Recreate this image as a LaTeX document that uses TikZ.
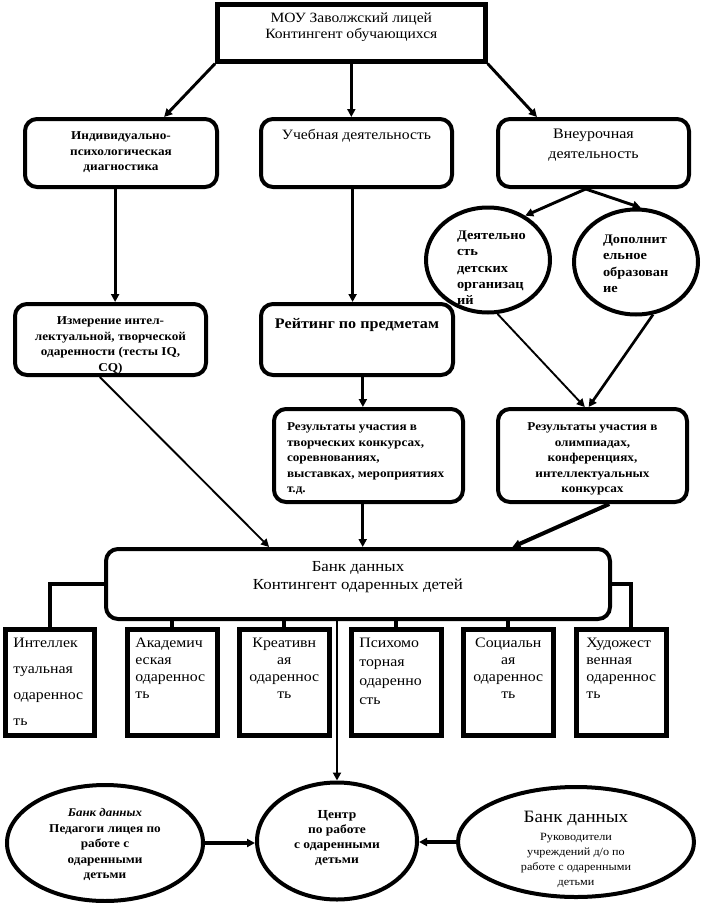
\documentclass[tikz,border=0pt]{standalone}
\usepackage{fontspec}
\setmainfont{Liberation Serif}[FakeStretch=1.1]
\usetikzlibrary{arrows.meta,shapes.geometric,calc}
\newdimen\px \px=0.75pt
\newbox\ctbox
\newcommand\bxt[4]{\parbox[c][#2\px][t]{#1\px}{\vspace*{#3\px}#4}}
\newcommand\ctext[4]{\setbox\ctbox=\hbox{\parbox[c][#2\px][t]{#1\px}{\vspace*{#3\px}#4}}\ht\ctbox=0pt\dp\ctbox=0pt\hbox to 0pt{\hss\box\ctbox\hss}}
\newcommand\fsz[2]{\fontsize{#1}{#2}\selectfont}
\newcommand\lft[1]{\raggedright\leftskip=#1\px\relax}
\begin{document}
\begin{tikzpicture}[x=0.75pt,y=-0.75pt,
  sqbox/.style={draw, line width=3.5pt, inner sep=0pt, anchor=north west},
  rbox/.style={draw, line width=3pt, rounded corners=9pt, inner sep=0pt, anchor=north west},
  ell/.style={ellipse, draw, line width=3pt, inner sep=0pt},
  tip/.style={-{Triangle[length=6pt,width=6pt]}},
  arr/.style={line width=2.2pt, tip},
  thinarr/.style={line width=1.4pt, tip},
  heavyarr/.style={line width=3pt, tip},
  link/.style={line width=3pt},
]
\useasboundingbox (0,0) rectangle (700,903);

% top
\node[sqbox] (top) at (215,2) {\bxt{268}{57}{8}{\centering\fsz{10.6}{12}МОУ Заволжский лицей\\Контингент обучающихся}};

% row 2
\node[rbox] (b1) at (23,117) {\bxt{192}{68}{13}{\centering\fsz{9}{11.6}\bfseries Индивидуально-\\психологическая\\диагностика}};
\node[rbox] (b2) at (259,117) {\bxt{191}{68}{10}{\centering\fsz{10.7}{13}Учебная деятельность}};
\node[rbox] (b3) at (496,117) {\bxt{191}{68}{10}{\centering\fsz{10.9}{15}Внеурочная\\деятельность}};

% row 3
\node[rbox] (izm) at (13,302) {\bxt{191}{71}{13}{\centering\fsz{9}{11.6}\bfseries Измерение интел-\\лектуальной, творческой\\одаренности (тесты IQ,\\CQ)}};
\node[rbox] (rt) at (259,302) {\bxt{192}{71}{14}{\centering\fsz{11}{13}\bfseries Рейтинг по предметам}};
\node[ell, minimum width=124\px, minimum height=105\px] (c1) at (488,260)
  {\ctext{124}{105}{27}{\lft{31}\fsz{9.8}{12.2}\bfseries Деятельно\\сть\\детских\\организац\\ий}};
\node[ell, minimum width=124\px, minimum height=105\px] (c2) at (636,262)
  {\ctext{124}{105}{29}{\lft{29}\fsz{9.8}{12.2}\bfseries Дополнит\\ельное\\образован\\ие}};

% row 4
\node[rbox] (res1) at (272,407) {\bxt{189}{93}{14}{\lft{13}\fsz{9}{11.6}\bfseries Результаты участия в\\творческих конкурсах,\\соревнованиях,\\выставках, мероприятиях\\т.д.}};
\node[rbox] (res2) at (496,407) {\bxt{189}{93}{14}{\centering\fsz{9}{11.6}\bfseries Результаты участия в\\олимпиадах,\\конференциях,\\интеллектуальных\\конкурсах}};

% bank
\node[rbox] (bank) at (104,547) {\bxt{504}{70}{12}{\centering\fsz{11.5}{13.5}Банк данных\\Контингент одаренных детей}};

% six kinds
\node[sqbox] (g1) at (3,627) {\bxt{89}{106}{9}{\lft{8}\fsz{10.8}{19.5}Интеллек\\туальная\\одареннос\\ть}};
\node[sqbox] (g2) at (125,627) {\bxt{90}{106}{9}{\lft{8}\fsz{10.8}{12.75}Академич\\еская\\одареннос\\ть}};
\node[sqbox] (g3) at (237,627) {\bxt{90}{106}{9}{\centering\fsz{10.8}{12.75}Креативн\\ая\\одареннос\\ть}};
\node[sqbox] (g4) at (349,627) {\bxt{90}{106}{9}{\lft{8}\fsz{10.8}{14.25}Психомо\\торная\\одаренно\\сть}};
\node[sqbox] (g5) at (461,627) {\bxt{90}{106}{9}{\centering\fsz{10.8}{12.75}Социальн\\ая\\одареннос\\ть}};
\node[sqbox] (g6) at (574,627) {\bxt{90}{106}{9}{\lft{10}\fsz{10.8}{12.75}Художест\\венная\\одареннос\\ть}};

% bottom
\node[ell, minimum width=196\px, minimum height=116\px] (le) at (105,843)
  {\ctext{196}{116}{27}{\centering\fsz{9}{11.6}{\bfseries\itshape\fsz{8.8}{11.6}Банк данных}\\\bfseries Педагоги лицея по\\работе с\\одаренными\\детьми}};
\node[ell, minimum width=160\px, minimum height=117\px] (cen) at (337,841)
  {\ctext{160}{117}{31}{\centering\fsz{9.2}{11.4}\bfseries Центр\\по работе\\с одаренными\\детьми}};
\node[ell, minimum width=236\px, minimum height=110\px] (re) at (576,842)
  {\ctext{236}{110}{27}{\centering{\fsz{13}{15}Банк данных\par}\vspace{3\px}\fsz{8.3}{11.25}Руководители\\учреждений д/о по\\работе с одаренными\\детьми}};

% connectors
\draw[arr] (top.south west) -- ($(b1.north west)!0.72!(b1.north east)$);
\draw[arr] (top.south) -- (top.south |- b2.north);
\draw[arr] (top.south east) -- ($(b3.north west)!0.21!(b3.north east)$);

\coordinate (p1) at ($(b1.south west)!0.47!(b1.south east)$);
\draw[arr] (p1) -- (p1 |- izm.north);
\coordinate (p2) at ($(b2.south west)!0.48!(b2.south east)$);
\draw[arr] (p2) -- (p2 |- rt.north);
\coordinate (p3) at ($(b3.south west)!0.46!(b3.south east)$);
\draw[arr] (p3) -- (c1.50);
\draw[arr] (p3) -- (c2.85);

\draw[thinarr] (c1.-80) -- ($(res2.north west)!0.46!(res2.north east)$);
\draw[line width=2pt, tip] (c2.-72) -- ($(res2.north west)!0.48!(res2.north east)$);
\coordinate (p4) at ($(rt.south west)!0.53!(rt.south east)$);
\draw[arr] (p4) -- (p4 |- res1.north);

\draw[thinarr] ($(izm.south west)!0.445!(izm.south east)$) -- ($(bank.north west)!0.325!(bank.north east)$);
\coordinate (p5) at ($(res1.south west)!0.47!(res1.south east)$);
\draw[arr] (p5) -- (p5 |- bank.north);
\draw[heavyarr] ($(res2.south west)!0.587!(res2.south east)$) -- ($(bank.north west)!0.804!(bank.north east)$);

\draw[link] (bank.west) -| (g1.north);
\draw[link] (bank.east) -| ($(g6.north west)!0.6!(g6.north east)$);
\foreach \g in {g2,g3,g4,g5} \draw[link] (\g.north) -- (\g.north |- bank.south);

\draw[arr] (cen.north |- bank.south) -- (cen.north);
\draw[line width=3.5pt, tip] (le.east) -- (le.east -| cen.west);
\draw[line width=3.5pt, tip] (re.west) -- (re.west -| cen.east);
\end{tikzpicture}
\end{document}
